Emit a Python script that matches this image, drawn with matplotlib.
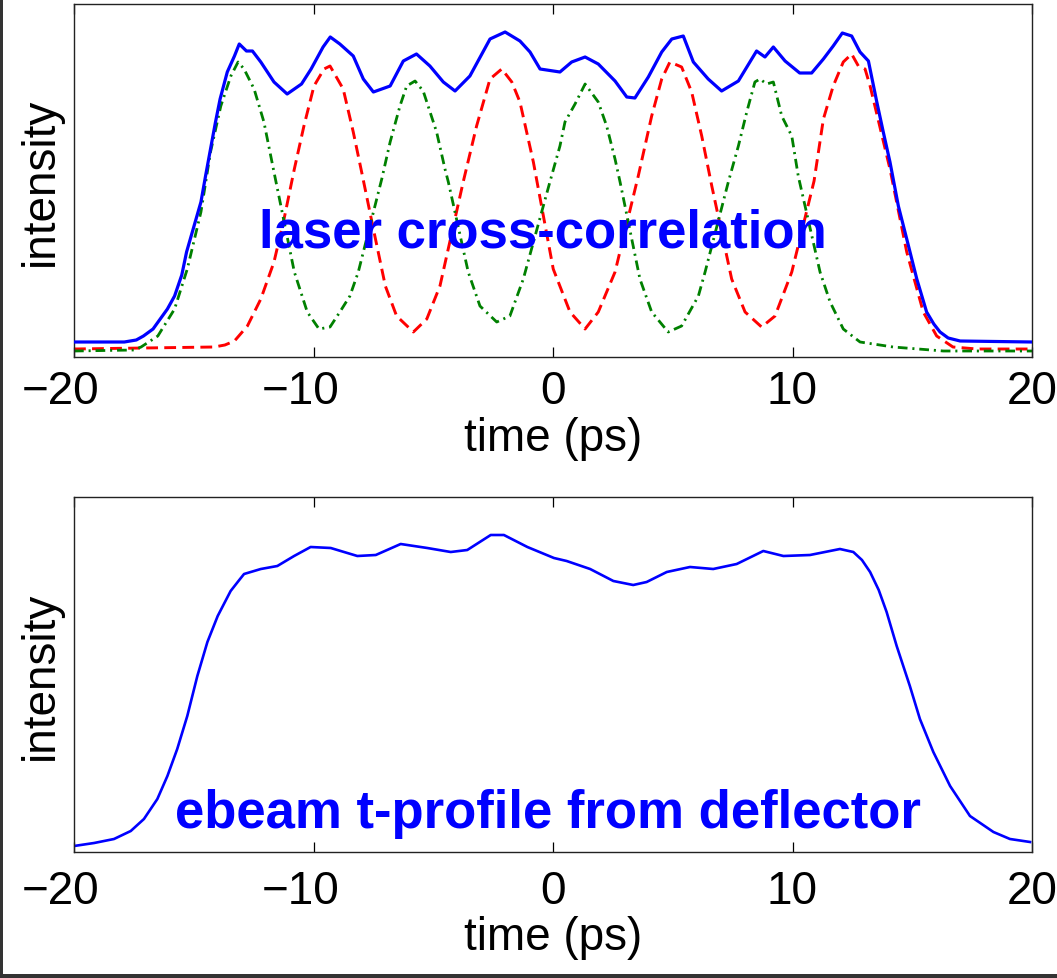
import matplotlib
matplotlib.use("Agg")
import matplotlib.pyplot as plt
import matplotlib.transforms as mtransforms
from matplotlib.patches import Rectangle

plt.rcParams['font.family'] = ['Liberation Sans', 'DejaVu Sans']
plt.rcParams['lines.scale_dashes'] = False

# ---------------- data (time in ps, intensity in arbitrary units) ----------------
laser_t = [-20, -17.9, -17.4, -17.1, -16.7, -16.4, -16.1, -15.8, -15.5, -15.3, -15.0, -14.7,
           -14.5, -14.3, -14.1, -13.9, -13.6, -13.3, -13.1,
           -12.8, -12.55, -12.2, -11.65, -11.1, -10.5, -10.1, -9.6, -9.3, -8.9, -8.34, -7.92,
           -7.5, -6.8, -6.25, -5.7, -5.14, -4.58, -4.09, -3.47, -2.63, -2.0, -1.38, -0.96,
           -0.54, 0.29, 0.78, 1.34, 1.89, 2.59, 3.08, 3.42, 3.98, 4.54, 4.96, 5.44, 5.86,
           6.48, 7.04, 7.74, 8.5, 8.85, 9.2, 9.69, 10.3, 10.8, 11.29, 11.7, 12.08, 12.47,
           12.82, 13.17, 13.52, 13.79, 14.07, 14.42, 14.77, 15.19, 15.6, 15.9, 16.16, 16.5,
           17.0, 20]
laser_total = [15, 15, 17, 21, 28, 38, 48, 61, 82, 105, 130, 155,
               182, 208, 234, 258, 285, 301, 313,
               306, 306, 295, 275, 263, 273, 288, 310, 320, 313, 301, 278,
               265, 271, 296, 303, 291, 275, 266, 281, 318, 325, 316, 305,
               288, 285, 295, 300, 293, 276, 260, 259, 280, 305, 318, 321, 295,
               278, 266, 276, 306, 300, 310, 296, 284, 284, 298, 311, 324, 321,
               305, 296, 255, 225, 195, 151, 118, 78, 45, 33, 25, 19,
               16, 15]

red_t = [-20, -14.15, -13.7, -13.3, -12.76, -12.2, -11.65, -11.23, -10.8, -10.4, -9.98, -9.56,
         -9.31, -8.76, -8.34, -7.99, -7.5, -7.0, -6.53, -5.83, -5.27, -4.72, -3.75, -3.19,
         -2.63, -2.14, -1.72, -1.38, -0.82, 0.01, 0.71, 1.34, 1.89, 2.59, 3.56, 4.12,
         4.54, 4.88, 5.37, 5.79, 6.21, 6.63, 7.46, 8.02, 8.71, 9.27, 9.97, 10.9, 11.29,
         11.7, 12.12, 12.47, 12.75, 13.03, 13.24, 14.07, 14.77, 15.46, 16.02, 16.7, 17.7, 20]
red_pulses = [8, 10, 12, 16, 31, 58, 95, 138, 188, 231, 271, 288,
              291, 268, 225, 185, 128, 71, 41, 25, 38, 71, 175, 231,
              278, 288, 275, 255, 195, 88, 45, 28, 45, 85, 181, 241,
              278, 295, 290, 265, 221, 171, 78, 45, 30, 41, 85, 176, 238,
              271, 295, 303, 291, 288, 271, 188, 105, 45, 21, 10, 8, 8]

green_t = [-20, -17.5, -17.2, -16.5, -15.8, -15.27, -14.7, -14.3, -13.87, -13.45, -13.15,
           -12.9, -12.48, -12.07, -11.65, -10.8, -10.26, -9.77, -9.31, -8.9, -8.48, -8.13,
           -7.15, -6.8, -6.39, -6.11, -5.76, -5.42, -4.86, -4.51, -4.37, -3.54, -3.05, -2.35,
           -1.8, -1.24, -0.13, 0.29, 0.5, 0.92, 1.34, 1.89, 2.24, 2.59, 2.8, 3.63, 4.12,
           4.81, 5.37, 6.07, 6.35, 7.32, 7.74, 8.09, 8.43, 8.64, 8.92, 9.2, 9.55, 9.97,
           10.24, 11.15, 11.57, 12.12, 12.82, 14.2, 16.3, 20]
green_pulses = [6, 7, 10, 21, 48, 88, 145, 205, 251, 281, 295,
                288, 268, 235, 185, 85, 45, 28, 30, 45, 61, 85,
                178, 215, 251, 271, 276, 266, 225, 188, 175, 85, 51, 35,
                41, 78, 175, 211, 235, 253, 273, 255, 231, 198, 175, 78, 45,
                25, 31, 61, 85, 175, 211, 245, 275, 278, 273, 275, 241, 221,
                181, 85, 55, 28, 15, 10, 6, 6]

ebeam_t = [-20, -19.16, -18.33, -17.63, -17.08, -16.52, -16.1, -15.69, -15.27, -14.85,
           -14.43, -14.0, -13.46, -13.1, -12.9, -12.2, -11.51, -10.81, -10.12, -9.28, -8.17,
           -7.4, -6.36, -5.25, -4.27, -3.58, -2.6, -2.05, -1.07, 0.04, 0.57, 1.55, 2.52,
           3.35, 3.91, 4.75, 5.72, 6.69, 7.67, 8.78, 9.62, 10.73, 11.98, 12.54, 12.9, 13.24,
           13.6, 13.93, 14.35, 14.9, 15.32, 15.88, 16.58, 17.41, 18.39, 19.08, 19.92]
ebeam_profile = [6, 9, 13, 21, 33, 53, 76, 103, 136, 176,
                 210, 236, 261, 272, 278, 283, 286, 296, 305, 304, 296,
                 297, 308, 304, 300, 302, 317, 317, 305, 294, 291, 283, 271,
                 267, 270, 280, 285, 283, 288, 301, 296, 297, 303, 300, 292, 280,
                 262, 240, 206, 166, 133, 100, 66, 36, 20, 13, 10]

xticks = [-20, -10, 0, 10, 20]
xticklabels = ['\u221220', '\u221210', '0', '10', '20']

# ---------------- figure ----------------
W, H = 1057, 979
fig = plt.figure(figsize=(W / 100, H / 100), dpi=100)

ax1 = fig.add_axes([74 / W, (H - 358) / H, 958 / W, 353 / H])
ax2 = fig.add_axes([74 / W, (H - 853) / H, 958 / W, 355 / H])

ax1.plot(red_t, red_pulses, color=(1, 0, 0), lw=2.1, dashes=(8.5, 4.5), zorder=2)
ax1.plot(green_t, green_pulses, color=(0, 0.5, 0), lw=2.0, dashes=(7.0, 3.5, 1.5, 3.5), zorder=2)
ax1.plot(laser_t, laser_total, color=(0, 0, 1), lw=2.3, zorder=3)
ax1.set_ylim(0, 353)

ax2.plot(ebeam_t, ebeam_profile, color=(0, 0, 1), lw=1.9)
ax2.set_ylim(0, 355)

fs = 33
for ax, pad in ((ax1, 9), (ax2, 12)):
    ax.set_xlim(-20, 20)
    ax.set_xticks(xticks)
    ax.set_xticklabels(xticklabels)
    ax.set_yticks([])
    ax.tick_params(axis='x', direction='in', length=7, width=0.9, top=True,
                   labelsize=fs, pad=pad, colors='k')
    for sp in ax.spines.values():
        sp.set_linewidth(1.0)
        sp.set_color('#222222')
    ax.set_xlabel('time (ps)', fontsize=fs, labelpad=2)
    ax.set_ylabel('intensity', fontsize=fs, labelpad=8)
    # shift negative labels slightly left, as in the original
    off = mtransforms.ScaledTranslation(-13 / 100, 0, fig.dpi_scale_trans)
    for lab in ax.get_xticklabels():
        if lab.get_text().startswith('\u2212'):
            lab.set_transform(lab.get_transform() + off)

ax1.text(0.4896, 0.3144, 'laser cross-correlation', transform=ax1.transAxes,
         ha='center', va='baseline', fontsize=38, fontweight='bold', color=(0, 0, 1))
ax2.text(0.4943, 0.0704, 'ebeam t-profile from deflector', transform=ax2.transAxes,
         ha='center', va='baseline', fontsize=38, fontweight='bold', color=(0, 0, 1))

# figure frame (left and bottom dark edges)
fig.add_artist(Rectangle((0, 0), 2.5 / W, 1, transform=fig.transFigure,
                         color='#333333', lw=0))
fig.add_artist(Rectangle((0, 0), 1, 4.5 / H, transform=fig.transFigure,
                         color='#333333', lw=0))

fig.savefig('out.png', dpi=100)
